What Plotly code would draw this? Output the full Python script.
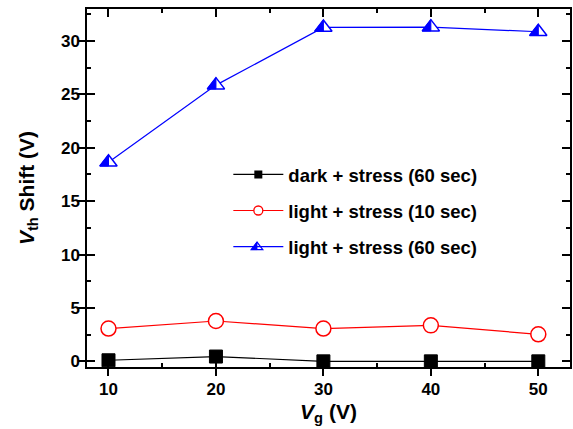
import plotly.graph_objects as go

vg = [10, 20, 30, 40, 50]
dark_60 = [0.1, 0.45, 0.0, 0.0, 0.0]
light_10 = [3.07, 3.78, 3.07, 3.37, 2.53]
light_60 = [18.65, 25.87, 31.27, 31.3, 30.87]
names = ["dark + stress (60 sec)", "light + stress (10 sec)", "light + stress (60 sec)"]
y_ticks = [0, 5, 10, 15, 20, 25, 30]
x_minor = [15, 25, 35, 45]
y_minor = [2.5, 7.5, 12.5, 17.5, 22.5, 27.5, 32.5]

FONT = "Liberation Sans, Arial, sans-serif"
X_RANGE = [8.0, 52.95]
Y_RANGE = [-0.53, 33.0]
BLUE = "#0000ff"
RED = "#ff0000"


def tri_path(r, half=False):
    w = 1.1547 * r
    if half:
        return f"M0,{r}L{-w:.2f},{-0.5 * r}L0,{-0.5 * r}Z"
    return f"M0,{r}L{-w:.2f},{-0.5 * r}L{w:.2f},{-0.5 * r}Z"


fig = go.Figure()

# data traces
fig.add_trace(go.Scatter(x=vg, y=dark_60, mode="lines+markers", showlegend=False,
                         line=dict(color="black", width=1.2),
                         marker=dict(symbol="square", size=13, color="black",
                                     line=dict(color="black", width=1))))
fig.add_trace(go.Scatter(x=vg, y=light_10, mode="lines+markers", showlegend=False,
                         line=dict(color=RED, width=1.2),
                         marker=dict(symbol="circle", size=15, color="white",
                                     line=dict(color=RED, width=1.5))))
fig.add_trace(go.Scatter(x=vg, y=light_60, mode="lines+markers", showlegend=False,
                         line=dict(color=BLUE, width=1.2),
                         marker=dict(symbol="triangle-up", size=15, color="white",
                                     line=dict(color=BLUE, width=1.5))))

# left half fill of the triangles, anchored at the data points (pixel-sized)
R = 7.5
for xv, yv in zip(vg, light_60):
    fig.add_shape(type="path", xref="x", yref="y", xsizemode="pixel", ysizemode="pixel",
                  xanchor=xv, yanchor=yv, path=tri_path(R, half=True), fillcolor=BLUE,
                  line=dict(color=BLUE, width=1), layer="above")

# legend entries
leg_styles = [
    dict(mode="lines+markers", line=dict(color="black", width=1.2),
         marker=dict(symbol="square", size=8, color="black")),
    dict(mode="lines+markers", line=dict(color=RED, width=1.2),
         marker=dict(symbol="circle", size=9, color="white", line=dict(color=RED, width=1.3))),
    dict(mode="lines", line=dict(color=BLUE, width=1.2)),
]
for i, (nm, st) in enumerate(zip(names, leg_styles)):
    fig.add_trace(go.Scatter(x=[None], y=[None], name=nm, legendgroup=f"g{i}", **st))

# dummy trace so the overlay (mirror tick) axes are drawn
fig.add_trace(go.Scatter(x=[None], y=[None], xaxis="x2", yaxis="y2", showlegend=False,
                         hoverinfo="skip"))

# half-filled triangle symbol for the third legend entry
LX, LY = 0.352, 0.335
r_leg = 5
fig.add_shape(type="path", xref="paper", yref="paper", xsizemode="pixel", ysizemode="pixel",
              xanchor=LX, yanchor=LY, path=tri_path(r_leg), fillcolor="white",
              line=dict(color=BLUE, width=1.2), layer="above")
fig.add_shape(type="path", xref="paper", yref="paper", xsizemode="pixel", ysizemode="pixel",
              xanchor=LX, yanchor=LY, path=tri_path(r_leg, half=True), fillcolor=BLUE,
              line=dict(color=BLUE, width=0.8), layer="above")

axis_common = dict(showline=True, linewidth=1.5, linecolor="black", showgrid=False,
                   zeroline=False, tickwidth=1.5, tickcolor="black", automargin=False)

fig.update_layout(
    width=573, height=429,
    margin=dict(l=87, r=3, t=9, b=62),
    plot_bgcolor="white", paper_bgcolor="white",
    font=dict(family=FONT, size=17, color="black", weight="bold"),
    legend=dict(x=0.2926, y=0.436, xanchor="left", yanchor="middle",
                bgcolor="rgba(0,0,0,0)", font=dict(size=18.5, weight="bold"),
                tracegroupgap=9, itemwidth=50, traceorder="grouped"),
    xaxis=dict(range=X_RANGE, tickvals=vg, ticks="outside", ticklen=7, ticklabelstandoff=-1,
               title=dict(text="<i>V</i><sub>g</sub> (V)", font=dict(size=21, weight="bold"),
                          standoff=6),
               **axis_common),
    yaxis=dict(range=Y_RANGE, tickvals=y_ticks, ticks="outside", ticklen=7, ticklabelstandoff=-5,
               title=dict(text="<i>V</i><sub>th</sub> Shift (V)", font=dict(size=21, weight="bold"),
                          standoff=21),
               **axis_common),
    xaxis2=dict(overlaying="x", anchor="y2", range=X_RANGE, tickvals=vg, ticks="inside",
                ticklen=8, mirror="ticks", showticklabels=False,
                minor=dict(ticks="inside", ticklen=4, tickwidth=1.5, tickvals=x_minor,
                           showgrid=False),
                **axis_common),
    yaxis2=dict(overlaying="y", anchor="x2", range=Y_RANGE, tickvals=y_ticks, ticks="inside",
                ticklen=8, mirror="ticks", showticklabels=False,
                minor=dict(ticks="inside", ticklen=4, tickwidth=1.5, tickvals=y_minor,
                           showgrid=False),
                **axis_common),
)

fig.write_html("out.html", config={"displayModeBar": False},
               post_script="document.body.style.margin='0';")
